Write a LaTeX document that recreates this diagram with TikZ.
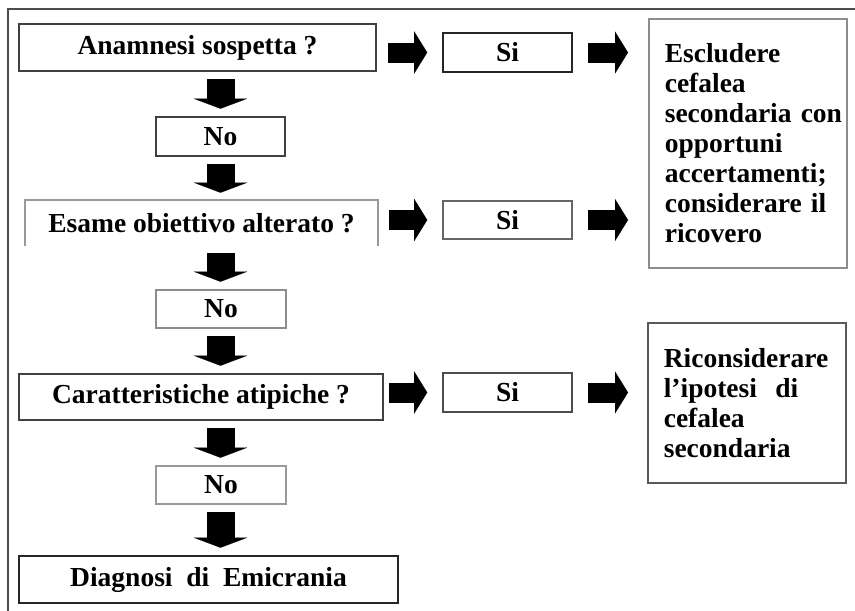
\documentclass[tikz,border=0pt]{standalone}
\usepackage{fontspec}
\setmainfont{Liberation Serif}
\usepackage{tikz}
\usetikzlibrary{positioning,arrows.meta}

\begin{document}
\begin{tikzpicture}[x=1pt,y=-1pt,
  box/.style={draw=black!75, line width=1.6pt, inner sep=0pt, font=\bfseries\fontsize{27.5}{30}\selectfont},
  notebox/.style={box, align=left, anchor=north west, inner xsep=16pt, text width=166pt},
  rarrow/.style={line width=20pt, -{Triangle[width=42pt,length=13pt,line width=0.01pt]}, shorten >=15pt},
  darrow/.style={line width=28pt, -{Triangle[width=53pt,length=10pt,line width=0.01pt]}, shorten <=7.5pt, shorten >=7.5pt}]

\useasboundingbox (0,0) rectangle (855,611);

% outer frame
\draw[black!70, line width=1.5pt] (8,611) -- (8,9) -- (855,9);

% questions
\node[box, minimum width=357pt, minimum height=47pt] (ana) at (197.5,47.5) {Anamnesi sospetta ?};
\node[box, draw=none, minimum width=351pt, minimum height=44pt] (esa) at (201.5,223) {Esame obiettivo alterato ?};
\draw[black!40, line width=1.6pt] (esa.south west) -- (esa.north west) -- (esa.north east) -- (esa.south east);
\node[box, minimum width=364pt, minimum height=46pt] (car) at (201,397) {Caratteristiche atipiche ?};
\node[box, draw=black!85, minimum width=379pt, minimum height=47pt] (dia) at (208.5,579.5) {Diagnosi\ \ di\ \ Emicrania};

% no answers
\node[box, minimum width=129pt, minimum height=39pt] (no1) at (220.5,136.5) {No};
\node[box, draw=black!45, minimum width=130pt, minimum height=38pt] (no2) at (221,309) {No};
\node[box, draw=black!40, minimum width=130pt, minimum height=38pt] (no3) at (221,485) {No};

% si answers
\node[box, draw=black!85, minimum width=129pt, minimum height=39pt] (si1) at (507.5,52.5) {Si};
\node[box, draw=black!60, minimum width=129pt, minimum height=38pt] (si2) at (507.5,220) {Si};
\node[box, draw=black!70, minimum width=129pt, minimum height=39pt] (si3) at (507.5,392.5) {Si};

% advice boxes
\node[notebox, draw=black!45, minimum height=249pt] (esc) at (648,18)
  {Escludere\\cefalea\\\mbox{secondaria con}\\opportuni\\accertamenti;\\considerare il\\ricovero};
\node[notebox, draw=black!65, minimum height=160pt] (ric) at (647,322)
  {Riconsiderare\\l'ipotesi\ \ di\\cefalea\\secondaria};

% block arrows down
\foreach \a/\b in {ana/no1, no1/esa, esa/no2, no2/car, car/no3, no3/dia}
  \draw[darrow] (\a.south -| no1) -- (\b.north -| no1);

% block arrows right
\draw[rarrow, shorten <=11pt] (ana.east |- si1) -- (si1.west);
\draw[rarrow, shorten <=11pt] (esa.east |- si2) -- (si2.west);
\draw[rarrow, shorten <=5pt] (car.east |- si3) -- (si3.west);
\draw[rarrow, shorten <=15pt, shorten >=20pt] (si1.east) -- (si1.east -| esc.west);
\draw[rarrow, shorten <=15pt, shorten >=20pt] (si2.east) -- (si2.east -| esc.west);
\draw[rarrow, shorten <=15pt, shorten >=19pt] (si3.east) -- (si3.east -| ric.west);

\end{tikzpicture}
\end{document}
